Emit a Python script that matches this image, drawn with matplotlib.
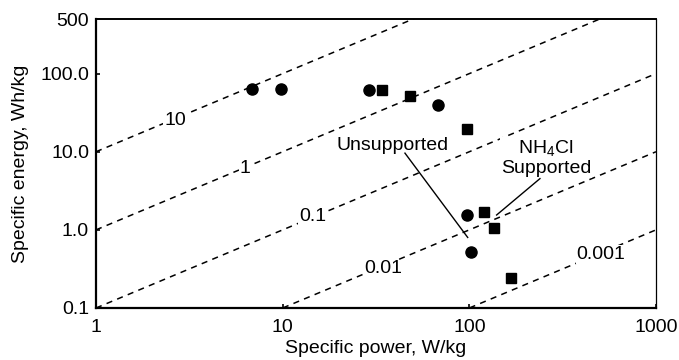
import numpy as np
import matplotlib.pyplot as plt

plt.rcParams['font.family'] = ['Liberation Sans', 'DejaVu Sans']
plt.rcParams['mathtext.fontset'] = 'custom'
plt.rcParams['mathtext.rm'] = 'Liberation Sans'

# data
circle_power = [6.85, 9.8, 29.1, 67.6, 96.7, 101.6]
circle_energy = [63.0, 63.5, 62.0, 40.0, 1.55, 0.52]
square_power = [33.9, 48.3, 97.0, 119.7, 136.0, 167.6]
square_energy = [62.0, 52.2, 19.4, 1.67, 1.06, 0.24]

# lines of constant discharge time, hours
hours = [10, 1, 0.1, 0.01, 0.001]
hour_labels = ["10", "1", "0.1", "0.01", "0.001"]
label_pos = [(2.65, 25.0), (6.3, 6.1), (14.5, 1.47), (34.5, 0.316), (507, 0.48)]

xticks = [1, 10, 100, 1000]
xticklabels = ["1", "10", "100", "1000"]
yticks = [0.1, 1, 10, 100, 500]
yticklabels = ["0.1", "1.0", "10.0", "100.0", "500"]

fs = 14

fig = plt.figure(figsize=(6.79, 3.6), dpi=100)
ax = fig.add_axes([96/679, 1 - 308/360, 560/679, 289/360])

P = np.logspace(0, 3, 400)
for t in hours:
    ax.plot(P, P*t, color='black', lw=1.1, ls=(0, (4, 3.5)), zorder=1)

for (px, py), txt in zip(label_pos, hour_labels):
    ax.text(px, py, txt, fontsize=fs, ha='center', va='center',
            bbox=dict(facecolor='white', edgecolor='none', pad=0.5), zorder=2)

ax.plot(circle_power, circle_energy, 'o', color='black', ms=8, zorder=3)
ax.plot(square_power, square_energy, 's', color='black', ms=7.5, zorder=3)

# annotation labels with leader lines
ax.text(39, 12.0, "Unsupported", fontsize=fs, ha='center', va='center',
        bbox=dict(facecolor='white', edgecolor='none', pad=0.5), zorder=2)
ax.plot([45.2, 98], [9.6, 0.80], color='black', lw=1.0, zorder=2)
ax.text(257, 8.3, "NH$_{\\rm 4}$Cl\nSupported", fontsize=fs, ha='center',
        va='center', linespacing=1.1,
        bbox=dict(facecolor='white', edgecolor='none', pad=0.5), zorder=2)
ax.plot([140, 239], [1.55, 4.53], color='black', lw=1.0, zorder=2)

ax.set_xscale('log')
ax.set_yscale('log')
ax.set_xlim(1, 1000)
ax.set_ylim(0.1, 500)
ax.set_xticks(xticks)
ax.set_xticklabels(xticklabels)
ax.set_yticks(yticks)
ax.set_yticklabels(yticklabels)
ax.minorticks_off()
ax.tick_params(direction='in', length=3, width=1.2, labelsize=fs)
ax.tick_params(axis='x', pad=8)
ax.tick_params(axis='y', pad=5)

ax.spines['left'].set_linewidth(1.6)
ax.spines['bottom'].set_linewidth(1.6)
ax.spines['top'].set_linewidth(1.4)
ax.spines['right'].set_linewidth(0.9)

ax.set_xlabel("Specific power, W/kg", fontsize=fs, labelpad=3)
ax.set_ylabel("Specific energy, Wh/kg", fontsize=fs, labelpad=8)

fig.savefig("out.png", dpi=100)
